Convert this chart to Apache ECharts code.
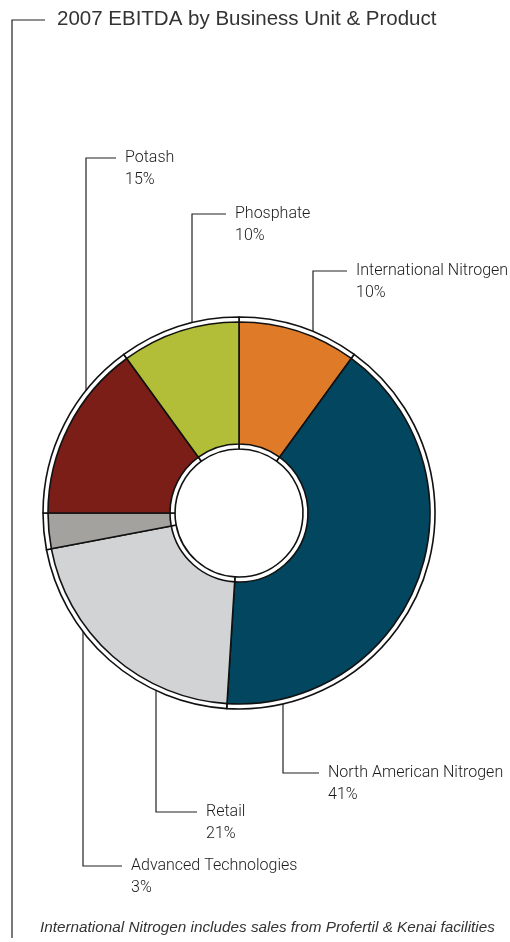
<!DOCTYPE html>
<html>
<head>
<meta charset="utf-8">
<script src="https://cdn.jsdelivr.net/npm/echarts@6/dist/echarts.min.js"></script>
<style>
html,body{margin:0;padding:0;background:#fff;}
#chart{width:510px;height:942px;}
</style>
</head>
<body>
<div id="chart"></div>
<script>
// ---- data ----
const categories = ['International Nitrogen', 'North American Nitrogen', 'Retail', 'Advanced Technologies', 'Potash', 'Phosphate'];
const shares = [10, 41, 21, 3, 15, 10];
const colors = ['#DF7A29', '#02465F', '#D2D3D5', '#A4A29E', '#7A1E17', '#B3BE38'];
const titleText = '2007 EBITDA by Business Unit & Product';
const footnote = 'International Nitrogen includes sales from Profertil & Kenai facilities';

// ---- layout (positions only) ----
const CX = 239, CY = 513;
const R_OUT = 196;
// vx: x of vertical leader, ly: y of horizontal leader, tx: text left, r: anchor radius
const labelPos = [
  { vx: 313, ly: 271, tx: 356, r: R_OUT },
  { vx: 283, ly: 773, tx: 328, r: R_OUT },
  { vx: 156, ly: 812, tx: 206, r: R_OUT },
  { vx: 83,  ly: 866, tx: 131, r: 157 },
  { vx: 86,  ly: 158, tx: 125, r: R_OUT },
  { vx: 192, ly: 214, tx: 235, r: R_OUT }
];

const chart = echarts.init(document.getElementById('chart'), null, { renderer: 'canvas' });
const seriesData = categories.map((c, i) => ({ name: c, value: shares[i], itemStyle: { color: colors[i] } }));
const whiteData = categories.map((c, i) => ({ name: c, value: shares[i] }));

const labelFont = "Roboto, 'Liberation Sans', sans-serif";

chart.setOption({
  animation: false,
  backgroundColor: '#fff',
  series: [
    {
      type: 'pie',
      silent: true,
      center: [CX, CY],
      radius: [64, R_OUT],
      startAngle: 90,
      clockwise: true,
      avoidLabelOverlap: false,
      label: { show: false },
      labelLine: { show: false },
      itemStyle: { color: '#fff', borderColor: '#111', borderWidth: 1.6 },
      emphasis: { disabled: true },
      data: whiteData
    },
    {
      type: 'pie',
      silent: true,
      center: [CX, CY],
      radius: [69, 191],
      startAngle: 90,
      clockwise: true,
      avoidLabelOverlap: false,
      itemStyle: { borderColor: '#111', borderWidth: 1.6 },
      emphasis: { disabled: true },
      label: {
        show: true,
        position: 'outside',
        formatter: p => p.name + '\n' + p.value + '%',
        fontFamily: labelFont,
        fontWeight: 300,
        fontSize: 16,
        lineHeight: 22,
        color: '#1a1a1a',
        align: 'left'
      },
      labelLine: { show: true, lineStyle: { color: '#222', width: 1.2 } },
      labelLayout: function (params) {
        const lp = labelPos[params.dataIndex];
        const dx = lp.vx - CX;
        const dy = Math.sqrt(Math.max(0, lp.r * lp.r - dx * dx));
        const ay = lp.ly < CY ? CY - dy : CY + dy;
        return {
          x: lp.tx,
          y: lp.ly - 11,
          align: 'left',
          verticalAlign: 'top',
          labelLinePoints: [[lp.vx, ay], [lp.vx, lp.ly], [lp.tx - 9, lp.ly]]
        };
      },
      data: seriesData
    }
  ],
  graphic: [
    { type: 'polyline', silent: true, shape: { points: [[45, 20], [12, 20], [12, 938]] }, style: { stroke: '#222', lineWidth: 1.2, fill: null } },
    { type: 'text', silent: true, left: 57, top: 9, style: { text: titleText, font: "20.5px 'Liberation Sans', Arial, sans-serif", fill: '#333' } },
    { type: 'text', silent: true, left: 40, top: 920, style: { text: footnote, font: "italic 15.3px 'Liberation Sans', Arial, sans-serif", fill: '#333' } }
  ]
});
</script>
</body>
</html>
